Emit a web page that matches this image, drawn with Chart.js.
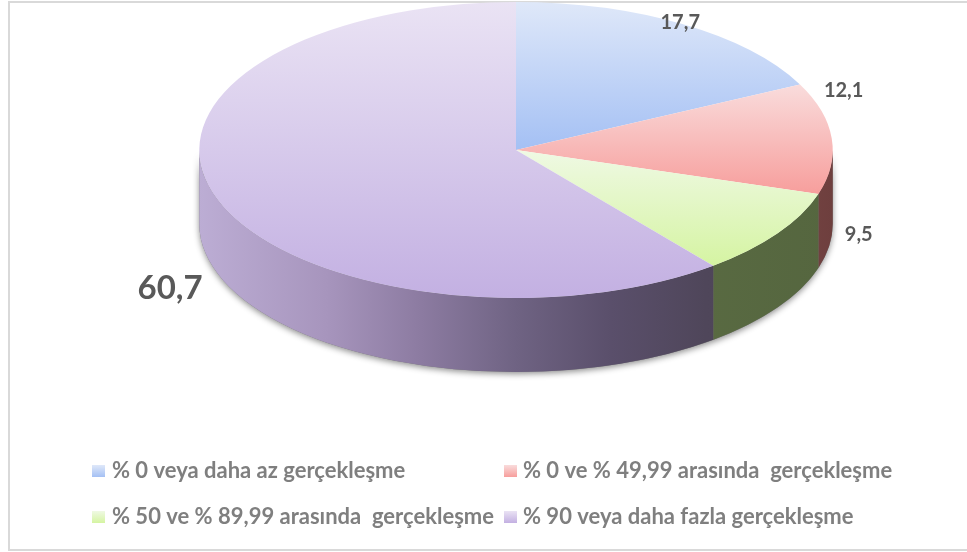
<!DOCTYPE html>
<html><head><meta charset="utf-8">
<script src="https://cdn.jsdelivr.net/npm/chart.js@4.4.1/dist/chart.umd.min.js"></script>
<style>
html,body{margin:0;padding:0;background:#fff;overflow:hidden}
#wrap{position:relative;width:967px;height:552px;overflow:hidden}
#frame{position:absolute;left:8px;top:1px;width:966px;height:550px;box-sizing:border-box;border:2px solid #d9d9d9;}
canvas{position:absolute;left:0;top:0}
</style></head><body>
<div id="wrap"><div id="frame"></div><canvas id="c" width="967" height="552"></canvas></div>
<script>
// ---- data ----
const categories = ['% 0 veya daha az gerçekleşme', '% 0 ve % 49,99 arasında  gerçekleşme', '% 50 ve % 89,99 arasında  gerçekleşme', '% 90 veya daha fazla gerçekleşme'];
const values = [17.7, 12.1, 9.5, 60.7];
const valueLabels = ['17,7', '12,1', '9,5', '60,7'];

// ---- style ----
const topLight = ['#dfe8f9', '#f9dcdc', '#eff9e4', '#eae3f4'];
const topDark = ['#a4c0f4', '#f79e9c', '#d5f4a2', '#c3b0e2'];
const sideStops = [
  [[0, '#8fa8d6'], [1, '#3f4f6e']],
  [[0, '#d88c8a'], [1, '#6e3f3e']],
  [[0, '#66784c'], [1, '#55663f']],
  [[0, '#bcadd4'], [0.2, '#a795bd'], [0.35, '#8c7ba1'], [0.5, '#6f6383'], [0.65, '#5a4f6b'], [0.8, '#4f465a'], [1, '#4b4256']]
];

function sliceAngles(i) {
  const total = values.reduce((a, b) => a + b, 0);
  let a0 = -Math.PI / 2;
  for (let j = 0; j < i; j++) a0 += 2 * Math.PI * values[j] / total;
  return [a0, a0 + 2 * Math.PI * values[i] / total];
}

function topFill(c) {
  const i = c.dataIndex;
  const chart = c.chart, area = chart.chartArea;
  if (!area) return topDark[i];
  const cx = (area.left + area.right) / 2, cy = (area.top + area.bottom) / 2;
  const r = Math.min(area.width, area.height) / 2;
  const [a0, a1] = sliceAngles(i);
  let ymin = cy, ymax = cy;
  for (let k = 0; k <= 60; k++) {
    const a = a0 + (a1 - a0) * k / 60;
    const y = cy + r * Math.sin(a);
    ymin = Math.min(ymin, y); ymax = Math.max(ymax, y);
  }
  const g = chart.ctx.createLinearGradient(0, ymin, 0, ymax);
  g.addColorStop(0, topLight[i]);
  g.addColorStop(1, topDark[i]);
  return g;
}

const pie3d = {
  id: 'pie3d',
  beforeDatasetsDraw(chart, args, opts) {
    const ctx = chart.ctx;
    const arcs = chart.getDatasetMeta(0).data;
    if (!arcs.length) return;
    const cx = arcs[0].x, cy = arcs[0].y, r = arcs[0].outerRadius;
    const rx = r * opts.scaleX, ry = r, d = opts.depth;
    // shadow under the whole side band
    ctx.save();
    ctx.shadowColor = 'rgba(0,0,0,0.45)';
    ctx.shadowBlur = 6;
    ctx.shadowOffsetY = 2;
    ctx.fillStyle = '#777';
    ctx.beginPath();
    ctx.ellipse(cx, cy, rx, ry, 0, 0, Math.PI);
    ctx.ellipse(cx, cy + d, rx, ry, 0, Math.PI, 0, true);
    ctx.closePath();
    ctx.fill();
    ctx.restore();
    // side pieces
    arcs.forEach((arc, i) => {
      const ranges = [];
      const s = arc.startAngle, e = arc.endAngle;
      [[0, Math.PI], [2 * Math.PI, 3 * Math.PI], [-2 * Math.PI, -Math.PI]].forEach(([lo, hi]) => {
        const a0 = Math.max(s, lo), a1 = Math.min(e, hi);
        if (a1 > a0) ranges.push([a0, a1]);
      });
      ranges.forEach(([a0, a1]) => {
        const g = ctx.createLinearGradient(cx - rx, 0, cx + rx, 0);
        sideStops[i].forEach(([p, col]) => g.addColorStop(p, col));
        ctx.save();
        ctx.fillStyle = g;
        ctx.beginPath();
        ctx.ellipse(cx, cy, rx, ry, 0, a0, a1);
        ctx.ellipse(cx, cy + d, rx, ry, 0, a1, a0, true);
        ctx.closePath();
        ctx.fill();
        ctx.restore();
      });
    });
    // squash the circular pie into the ellipse of the top face
    ctx.save();
    ctx.translate(cx, cy);
    ctx.scale(opts.scaleX, 1);
    ctx.translate(-cx, -cy);
  },
  afterDatasetsDraw(chart) {
    chart.ctx.restore();
  }
};

const sliceLabels = {
  id: 'sliceLabels',
  afterDraw(chart, args, opts) {
    const ctx = chart.ctx;
    const arcs = chart.getDatasetMeta(0).data;
    const sx = chart.options.plugins.pie3d.scaleX;
    arcs.forEach((arc, i) => {
      const m = (arc.startAngle + arc.endAngle) / 2;
      const k = opts.radial;
      const x = arc.x + arc.outerRadius * sx * k * Math.cos(m) + opts.nudge[i][0];
      const y = arc.y + arc.outerRadius * k * Math.sin(m) + opts.nudge[i][1];
      ctx.save();
      ctx.font = 'bold ' + opts.sizes[i] + 'px Lato';
      ctx.fillStyle = '#595959';
      ctx.textAlign = 'center';
      ctx.textBaseline = 'alphabetic';
      ctx.fillText(valueLabels[i], x, y);
      ctx.restore();
    });
  }
};

const boxLegend = {
  id: 'boxLegend',
  afterDraw(chart, args, opts) {
    const ctx = chart.ctx;
    categories.forEach((label, i) => {
      const col = i % 2, row = Math.floor(i / 2);
      const bx = opts.boxX[col], by = opts.baseY[row] - 13;
      const g = ctx.createLinearGradient(0, by, 0, by + 12);
      g.addColorStop(0, topLight[i]);
      g.addColorStop(1, topDark[i]);
      ctx.save();
      ctx.fillStyle = g;
      ctx.fillRect(bx, by, 13, 12);
      ctx.font = 'bold 22px Lato';
      ctx.fillStyle = '#7f7f7f';
      ctx.textBaseline = 'alphabetic';
      ctx.fillText(label, opts.textX[col], opts.baseY[row]);
      ctx.restore();
    });
  }
};

new Chart(document.getElementById('c'), {
  type: 'pie',
  data: {
    labels: categories,
    datasets: [{ data: values, backgroundColor: topFill, borderWidth: 0, clip: false }]
  },
  options: {
    responsive: false,
    animation: false,
    events: [],
    layout: { padding: { top: 2, bottom: 254, left: 300, right: 235 } },
    plugins: {
      legend: { display: false },
      tooltip: { enabled: false },
      pie3d: { scaleX: 2.14, depth: 74 },
      sliceLabels: { radial: 1.12, sizes: [20, 20, 20, 33], nudge: [[-23, 20], [-26, -40], [50, -3], [-11, 94]] },
      boxLegend: { boxX: [92, 504], textX: [112, 523], baseY: [478, 524] }
    }
  },
  plugins: [pie3d, sliceLabels, boxLegend]
});
</script>
</body></html>
